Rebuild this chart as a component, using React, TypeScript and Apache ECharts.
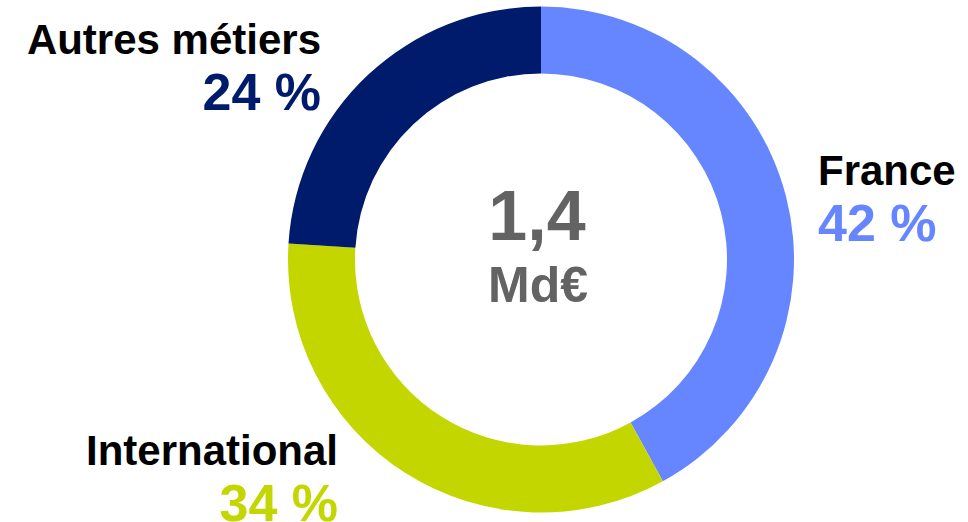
import React, { useEffect, useRef } from "react";
import * as echarts from "echarts";

const categories = ["France", "International", "Autres métiers"];
const shares = [42, 34, 24];
const colors = ["#6586FF", "#C4D600", "#001A6C"];
const totalValue = "1,4";
const totalUnit = "Md€";

// label anchor positions (layout only)
const labelPos = [
  { x: 818, y: 170, align: "left" },
  { x: 338, y: 450, align: "right" },
  { x: 321, y: 39, align: "right" },
];

const FONT = "'Liberation Sans', Arial, sans-serif";

export default function App() {
  const ref = useRef<HTMLDivElement>(null);
  useEffect(() => {
    if (!ref.current) return;
    const chart = echarts.init(ref.current, null, { renderer: "svg" });
    const graphics: any[] = [];
    categories.forEach((c, i) => {
      const p = labelPos[i];
      graphics.push({
        type: "text",
        x: p.x,
        y: p.y,
        style: {
          text: c,
          fill: "#000",
          font: `bold 42px ${FONT}`,
          textAlign: p.align,
          textVerticalAlign: "middle",
        },
      });
      graphics.push({
        type: "text",
        x: p.x,
        y: p.y + 53,
        style: {
          text: `${shares[i]} %`,
          fill: colors[i],
          font: `bold 52px ${FONT}`,
          textAlign: p.align,
          textVerticalAlign: "middle",
        },
      });
    });
    graphics.push({
      type: "text",
      x: 537,
      y: 216,
      style: {
        text: totalValue,
        fill: "#636363",
        font: `bold 70px ${FONT}`,
        textAlign: "center",
        textVerticalAlign: "middle",
      },
    });
    graphics.push({
      type: "text",
      x: 538,
      y: 285,
      style: {
        text: totalUnit,
        fill: "#636363",
        font: `bold 50px ${FONT}`,
        textAlign: "center",
        textVerticalAlign: "middle",
      },
    });
    chart.setOption({
      animation: false,
      backgroundColor: "#ffffff",
      graphic: graphics,
      series: [
        {
          type: "pie",
          center: [541, 259.5],
          radius: [186, 253],
          startAngle: 90,
          clockwise: true,
          label: { show: false },
          labelLine: { show: false },
          emphasis: { disabled: true },
          itemStyle: { borderWidth: 0 },
          data: categories.map((c, i) => ({
            name: c,
            value: shares[i],
            itemStyle: { color: colors[i] },
          })),
        },
      ],
    });
    return () => chart.dispose();
  }, []);
  return (
    <div
      ref={ref}
      style={{ position: "fixed", left: 0, top: 0, width: 968, height: 522 }}
    />
  );
}
